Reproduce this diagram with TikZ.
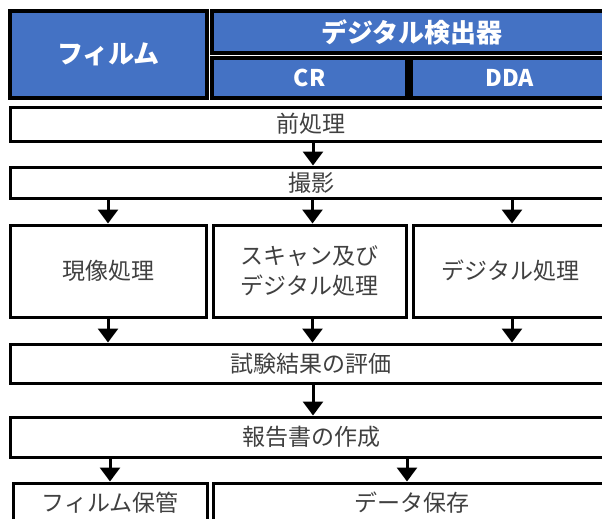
\documentclass[tikz,border=0pt]{standalone}
\usepackage{fontspec}
\setmainfont{Noto Sans CJK JP}
\usetikzlibrary{arrows.meta}
\definecolor{hblue}{HTML}{4472C4}
\definecolor{tgray}{HTML}{404040}
\tikzset{
  hdr/.style={draw=black, line width=3.4pt, fill=hblue, text=white, font=\bfseries\fontsize{26}{30}\selectfont, inner sep=0pt, anchor=center},
  hdrs/.style={hdr, font=\bfseries\fontsize{23}{26}\selectfont},
  box/.style={draw=black, line width=3pt, fill=white, text=tgray, font=\fontsize{23}{30}\selectfont, inner sep=0pt, anchor=center, align=center},
  arr/.style={line width=3pt, -{Triangle[width=20pt,length=14pt]}}
}
\begin{document}
\begin{tikzpicture}[x=1pt,y=-1pt]
\useasboundingbox (0,0) rectangle (602,519);
\clip (0,0) rectangle (602,519);
% header
\node[hdr, minimum width=197, minimum height=87] (film) at (108.5,54.5) {フィルム};
\node[hdr, minimum width=400, minimum height=42] (digital) at (412,32) {デジタル検出器};
\node[hdrs, minimum width=195, minimum height=40] (cr) at (309.5,78) {CR};
\node[hdrs, minimum width=197, minimum height=40] (dda) at (509.5,78) {DDA};
% process boxes
\node[box, minimum width=602, minimum height=34] (pre) at (311,124) {前処理};
\node[box, minimum width=602, minimum height=31] (shoot) at (311,182.5) {撮影};
\node[box, minimum width=196, minimum height=92] (dev) at (108,271) {現像処理};
\node[box, minimum width=193, minimum height=92] (scan) at (309.5,271) {スキャン及び\\デジタル処理};
\node[box, minimum width=195, minimum height=92] (dig) at (510.5,271) {デジタル処理};
\node[box, minimum width=602, minimum height=39] (eval) at (311,363.5) {試験結果の評価};
\node[box, minimum width=602, minimum height=40] (report) at (311,437) {報告書の作成};
\node[box, minimum width=194, minimum height=40] (fstore) at (110,503) {フィルム保管};
\node[box, minimum width=398, minimum height=40] (dstore) at (412,503) {データ保存};
% arrows
\draw[arr] ([xshift=2pt]pre.south) -- ([xshift=2pt]shoot.north);
\draw[arr] (shoot.south -| dev.north) -- (dev.north);
\draw[arr] ([xshift=3pt]shoot.south -| scan.north) -- ([xshift=3pt]scan.north);
\draw[arr] ([xshift=1.5pt]shoot.south -| dig.north) -- ([xshift=1.5pt]dig.north);
\draw[arr] (dev.south) -- (dev.south |- eval.north);
\draw[arr] ([xshift=3pt]scan.south) -- ([xshift=3pt]scan.south |- eval.north);
\draw[arr] ([xshift=1.5pt]dig.south) -- ([xshift=1.5pt]dig.south |- eval.north);
\draw[arr] ([xshift=2pt]eval.south) -- ([xshift=2pt]report.north);
\draw[arr] (report.south -| fstore.north) -- (fstore.north);
\draw[arr] ([xshift=-5pt]report.south -| dstore.north) -- ([xshift=-5pt]dstore.north);
\end{tikzpicture}
\end{document}
